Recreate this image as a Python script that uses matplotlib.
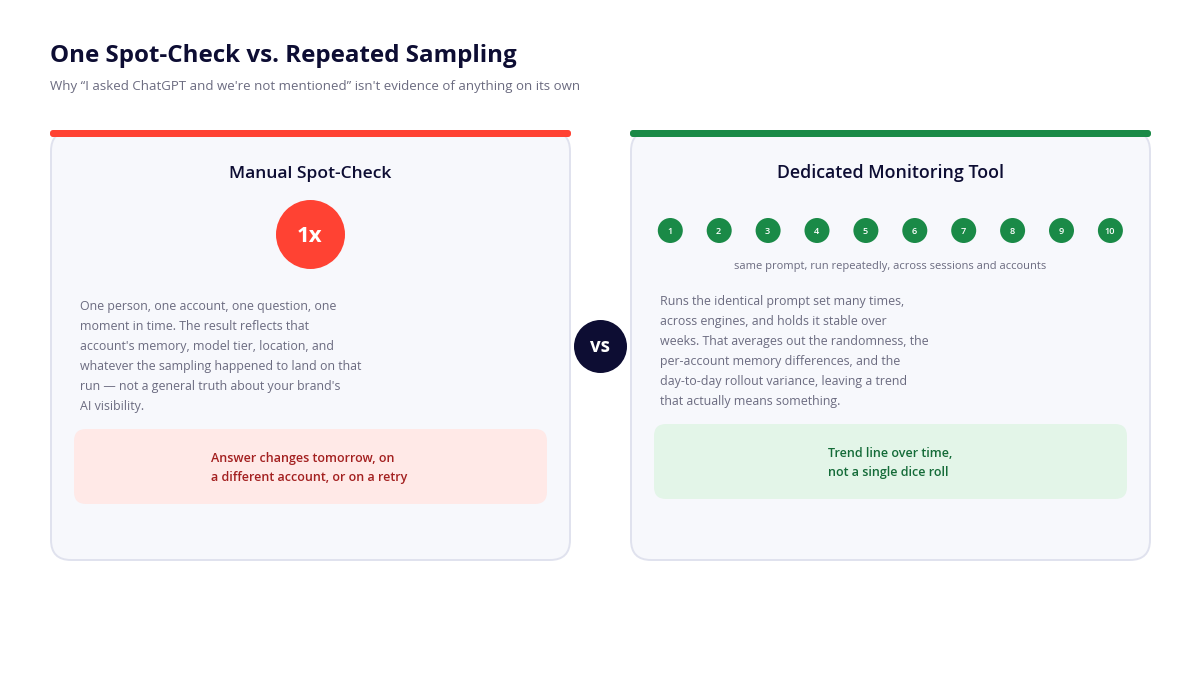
import matplotlib
matplotlib.use("Agg")
from matplotlib import pyplot as plt
from matplotlib.patches import FancyBboxPatch, Circle

plt.rcParams['font.family'] = ['Open Sans', 'DejaVu Sans']

title = "One Spot-Check vs. Repeated Sampling"
subtitle = "Why \u201cI asked ChatGPT and we're not mentioned\u201d isn't evidence of anything on its own"
left_head = "Manual Spot-Check"
right_head = "Dedicated Monitoring Tool"
left_badge = "1x"
run_labels = ["1", "2", "3", "4", "5", "6", "7", "8", "9", "10"]
run_note = "same prompt, run repeatedly, across sessions and accounts"
left_lines = ["One person, one account, one question, one",
              "moment in time. The result reflects that",
              "account's memory, model tier, location, and",
              "whatever the sampling happened to land on that",
              "run \u2014 not a general truth about your brand's",
              "AI visibility."]
right_lines = ["Runs the identical prompt set many times,",
               "across engines, and holds it stable over",
               "weeks. That averages out the randomness, the",
               "per-account memory differences, and the",
               "day-to-day rollout variance, leaving a trend",
               "that actually means something."]
left_call = ["Answer changes tomorrow, on", "a different account, or on a retry"]
right_call = ["Trend line over time,", "not a single dice roll"]

NAVY = "#0d0d33"
GREY = "#6b6b80"
RED = "#ff4233"
GREEN = "#1a8a47"

fig = plt.figure(figsize=(12, 6.75), dpi=100, facecolor="white")
ax = fig.add_axes([0, 0, 1, 1])
ax.set_xlim(0, 1200)
ax.set_ylim(675, 0)
ax.axis("off")


def rbox(x, y, w, h, r, fc, ec="none", lw=0, z=1):
    ax.add_patch(FancyBboxPatch((x + r, y + r), w - 2 * r, h - 2 * r,
                                boxstyle="round,pad=%s,rounding_size=%s" % (r, r),
                                fc=fc, ec=ec, lw=lw, zorder=z))


ax.text(50, 56.5, title, fontsize=17.4, fontweight="bold", color=NAVY, va="center")
ax.text(50, 86.5, subtitle, fontsize=9.5, color=GREY, va="center")

# cards
for x0, col in [(51, RED), (631, GREEN)]:
    rbox(x0, 131, 519, 429, 20, "#f7f8fc", "#e0e2ee", 1.4)
    rbox(x0 - 1, 130, 521, 7, 3, col, z=3)

ax.text(310.5, 173.5, left_head, fontsize=12.6, fontweight="semibold", color=NAVY, ha="center", va="center")
ax.text(890.5, 173.5, right_head, fontsize=12.75, fontweight="semibold", color=NAVY, ha="center", va="center")

# 1x badge
ax.add_patch(Circle((310.5, 234.5), 34.5, fc=RED, ec="none", zorder=2))
ax.text(310, 236.5, left_badge, fontsize=16, fontweight="bold", color="white", ha="center", va="center", zorder=3)

# run dots
for i, lab in enumerate(run_labels):
    cx = 670.3 + i * 48.9
    ax.add_patch(Circle((cx, 230.5), 12.5, fc=GREEN, ec="none", zorder=2))
    ax.text(cx - 0.5, 231, lab, fontsize=6.6, fontweight="semibold", color="white", ha="center", va="center", zorder=3)
ax.text(890, 266, run_note, fontsize=8, color=GREY, ha="center", va="center")

# body text
for i, line in enumerate(left_lines):
    ax.text(80, 306.5 + i * 20, line, fontsize=8.95, color=GREY, va="center")
for i, line in enumerate(right_lines):
    ax.text(660, 301.5 + i * 20, line, fontsize=8.95, color=GREY, va="center")

# callouts
rbox(74, 429, 473, 75, 12, "#ffe9e7")
rbox(654, 424, 473, 75, 12, "#e3f5e8")
for i, line in enumerate(left_call):
    ax.text(211, 458.5 + i * 19, line, fontsize=9, fontweight="semibold", color="#a32020", va="center")
for i, line in enumerate(right_call):
    ax.text(828, 453.5 + i * 19, line, fontsize=9, fontweight="semibold", color="#146b38", va="center")

# vs badge
ax.add_patch(Circle((600.5, 346.5), 26.5, fc=NAVY, ec="none", zorder=4))
ax.text(600.5, 347.5, "vs", fontsize=13.5, fontweight="bold", color="white", ha="center", va="center", zorder=5)

plt.savefig("out.png", dpi=100)
